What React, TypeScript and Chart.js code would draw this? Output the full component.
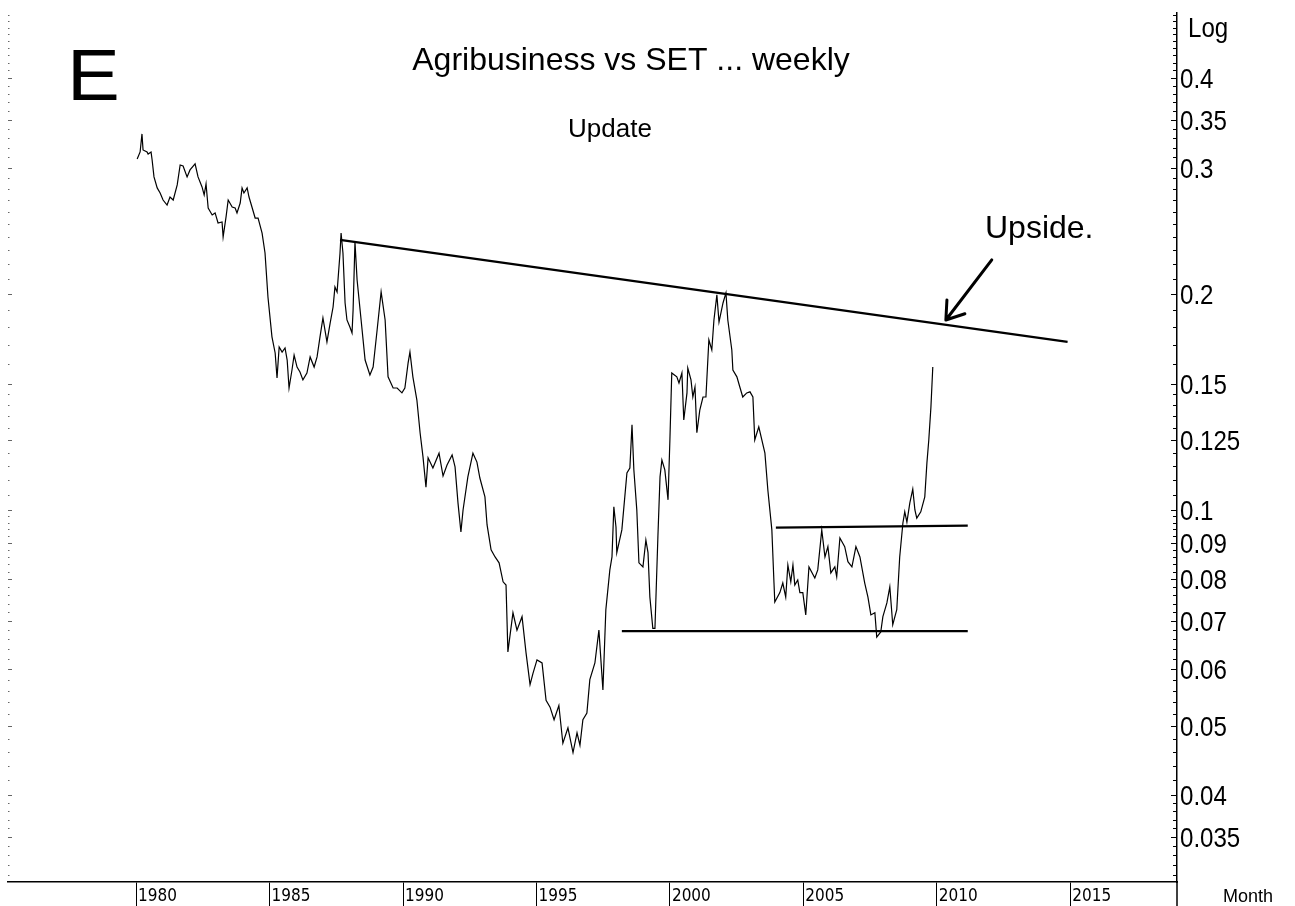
import React, { useEffect, useRef } from "react";
import { Chart, registerables } from "chart.js";

Chart.register(...registerables);

const PANEL_LETTER = "E";
const TITLE = "Agribusiness vs SET ... weekly";
const SUBTITLE = "Update";
const UPSIDE_LABEL = "Upside.";
const SCALE_LABEL = "Log";
const X_UNIT_LABEL = "Month";

const weekYears = [
  1980.04, 1980.15, 1980.22, 1980.26, 1980.41, 1980.45, 1980.56, 1980.6, 1980.67, 1980.79,
  1980.9, 1981.01, 1981.16, 1981.27, 1981.39, 1981.54, 1981.65, 1981.76, 1981.91, 1982.02,
  1982.21, 1982.32, 1982.47, 1982.55, 1982.62, 1982.7, 1982.85, 1982.96, 1983.07, 1983.22,
  1983.26, 1983.37, 1983.45, 1983.6, 1983.71, 1983.78, 1983.9, 1983.97, 1984.04, 1984.16,
  1984.23, 1984.34, 1984.46, 1984.57, 1984.72, 1984.83, 1984.94, 1985.09, 1985.21, 1985.28,
  1985.36, 1985.47, 1985.58, 1985.66, 1985.73, 1985.84, 1985.92, 1986.03, 1986.14, 1986.25,
  1986.4, 1986.52, 1986.67, 1986.78, 1986.89, 1987.0, 1987.15, 1987.27, 1987.38, 1987.45,
  1987.53, 1987.64, 1987.68, 1987.75, 1987.83, 1987.9, 1988.01, 1988.09, 1988.13, 1988.2,
  1988.28, 1988.43, 1988.58, 1988.76, 1988.88, 1989.03, 1989.18, 1989.33, 1989.44, 1989.63,
  1989.78, 1989.96, 1990.07, 1990.19, 1990.26, 1990.37, 1990.52, 1990.64, 1990.75, 1990.86,
  1990.94, 1991.12, 1991.35, 1991.5, 1991.65, 1991.84, 1991.95, 1992.06, 1992.17, 1992.25,
  1992.43, 1992.62, 1992.77, 1992.88, 1993.07, 1993.15, 1993.3, 1993.45, 1993.6, 1993.75,
  1993.86, 1993.93, 1994.12, 1994.27, 1994.46, 1994.61, 1994.76, 1994.87, 1995.02, 1995.21,
  1995.36, 1995.51, 1995.66, 1995.84, 1995.99, 1996.18, 1996.37, 1996.52, 1996.63, 1996.74,
  1996.89, 1997.0, 1997.19, 1997.34, 1997.49, 1997.6, 1997.75, 1997.83, 1997.9, 1997.98,
  1998.01, 1998.2, 1998.39, 1998.5, 1998.58, 1998.65, 1998.76, 1998.84, 1998.99, 1999.1,
  1999.18, 1999.25, 1999.36, 1999.44, 1999.55, 1999.63, 1999.7, 1999.81, 1999.93, 2000.0,
  2000.07, 2000.26, 2000.34, 2000.45, 2000.52, 2000.64, 2000.67, 2000.79, 2000.86, 2000.94,
  2001.01, 2001.12, 2001.24, 2001.35, 2001.46, 2001.57, 2001.65, 2001.76, 2001.84, 2001.99,
  2002.1, 2002.17, 2002.32, 2002.36, 2002.51, 2002.62, 2002.73, 2002.88, 2003.0, 2003.11,
  2003.18, 2003.33, 2003.56, 2003.67, 2003.82, 2003.9, 2003.93, 2004.12, 2004.23, 2004.34,
  2004.42, 2004.53, 2004.61, 2004.68, 2004.79, 2004.87, 2004.98, 2005.09, 2005.21, 2005.43,
  2005.54, 2005.69, 2005.81, 2005.92, 2006.03, 2006.18, 2006.25, 2006.37, 2006.55, 2006.67,
  2006.82, 2006.97, 2007.12, 2007.3, 2007.42, 2007.53, 2007.68, 2007.75, 2007.9, 2007.98,
  2008.13, 2008.24, 2008.35, 2008.5, 2008.61, 2008.73, 2008.8, 2008.88, 2008.99, 2009.1,
  2009.18, 2009.25, 2009.4, 2009.55, 2009.63, 2009.7, 2009.78, 2009.85,
];

const ratioValues = [
  0.3085, 0.3155, 0.3343, 0.3175, 0.3155, 0.3134, 0.3155, 0.3075, 0.2912, 0.2811,
  0.2766, 0.2704, 0.2661, 0.273, 0.2704, 0.2838, 0.3026, 0.3016, 0.2912, 0.2978,
  0.3036, 0.2912, 0.282, 0.2748, 0.2847, 0.2636, 0.2577, 0.2594, 0.2512, 0.252,
  0.2402, 0.2561, 0.2704, 0.2644, 0.2636, 0.2594, 0.2678, 0.2811, 0.2766, 0.2811,
  0.273, 0.2644, 0.2552, 0.2552, 0.2432, 0.2281, 0.1981, 0.1743, 0.1655, 0.1528,
  0.1687, 0.166, 0.1682, 0.1618, 0.1479, 0.1567, 0.1644, 0.1582, 0.1557, 0.1518,
  0.1552, 0.1634, 0.1582, 0.1634, 0.1743, 0.1852, 0.1715, 0.1822, 0.1918, 0.2046,
  0.2013, 0.2281, 0.2432, 0.2281, 0.1943, 0.184, 0.1799, 0.1765, 0.19, 0.2364,
  0.2092, 0.184, 0.1618, 0.1542, 0.1582, 0.1782, 0.2013, 0.184, 0.1533, 0.1479,
  0.1479, 0.1456, 0.1479, 0.1602, 0.166, 0.1533, 0.1423, 0.1281, 0.1185, 0.1076,
  0.1182, 0.1144, 0.12, 0.1115, 0.1155, 0.1193, 0.1148, 0.1023, 0.0932, 0.1,
  0.1112, 0.12, 0.1166, 0.1108, 0.1043, 0.0953, 0.088, 0.086, 0.0844, 0.0794,
  0.0786, 0.0634, 0.0719, 0.068, 0.071, 0.0632, 0.0571, 0.0592, 0.0618, 0.0612,
  0.0543, 0.0531, 0.051, 0.0534, 0.0473, 0.0497, 0.0459, 0.0489, 0.047, 0.051,
  0.0521, 0.058, 0.0612, 0.068, 0.0561, 0.0726, 0.0825, 0.086, 0.101, 0.0947,
  0.0872, 0.0938, 0.1126, 0.1144, 0.1314, 0.1137, 0.1, 0.0844, 0.0833, 0.0908,
  0.0872, 0.0756, 0.0684, 0.0684, 0.0917, 0.1112, 0.1174, 0.1137, 0.1033, 0.1252,
  0.1552, 0.1533, 0.1503, 0.1552, 0.1335, 0.1456, 0.1577, 0.1518, 0.1437, 0.1484,
  0.1281, 0.1378, 0.1437, 0.1437, 0.1726, 0.1671, 0.184, 0.1994, 0.1828, 0.1943,
  0.2007, 0.184, 0.1671, 0.1567, 0.1533, 0.1484, 0.1437, 0.1456, 0.1461, 0.1437,
  0.1252, 0.1306, 0.12, 0.1066, 0.0938, 0.0791, 0.0744, 0.0767, 0.0791, 0.0756,
  0.0838, 0.0794, 0.0838, 0.0786, 0.0799, 0.0767, 0.0767, 0.0714, 0.0833, 0.0804,
  0.0825, 0.0938, 0.086, 0.0889, 0.0817, 0.0833, 0.0807, 0.0914, 0.0889, 0.0847,
  0.0833, 0.0889, 0.086, 0.0791, 0.0756, 0.0714, 0.0719, 0.0665, 0.0676, 0.071,
  0.0742, 0.0781, 0.0692, 0.0726, 0.086, 0.0959, 0.0994, 0.0962, 0.1023, 0.1069,
  0.1, 0.0974, 0.0994, 0.1043, 0.1163, 0.1252, 0.1391, 0.1582,
];

const topTrendYears = [1987.64, 2014.9];
const topTrendValues = [0.2379, 0.1715];
const rangeTopYears = [2003.97, 2011.16];
const rangeTopValues = [0.0945, 0.0951];
const rangeBottomYears = [1998.2, 2011.16];
const rangeBottomValues = [0.0678, 0.0678];

const arrowTail = [2012.06, 0.2231];
const arrowTip = [2010.34, 0.184];

const xTickYears = [1980, 1985, 1990, 1995, 2000, 2005, 2010, 2015];
const X_MIN = 1975.2;
const X_MAX = 2019.0;
const Y_MIN = 0.0303;
const Y_MAX = 0.4928;

const yLabelledTicks = [0.4, 0.35, 0.3, 0.2, 0.15, 0.125, 0.1, 0.09, 0.08, 0.07, 0.06, 0.05, 0.04, 0.035];
const yMinorTicks = [
  0.49, 0.48, 0.47, 0.46, 0.45, 0.44, 0.43, 0.42, 0.41,
  0.39, 0.38, 0.37, 0.36, 0.34, 0.33, 0.32, 0.31,
  0.29, 0.28, 0.27, 0.26, 0.25, 0.24, 0.23, 0.22, 0.21,
  0.19, 0.18, 0.17, 0.16,
  0.145, 0.14, 0.135, 0.13, 0.12, 0.115, 0.11, 0.105,
  0.098, 0.096, 0.094, 0.092, 0.088, 0.086, 0.084, 0.082,
  0.078, 0.076, 0.074, 0.072, 0.068, 0.066, 0.064, 0.062,
  0.058, 0.056, 0.054, 0.052, 0.048, 0.046, 0.044, 0.042,
  0.039, 0.038, 0.037, 0.036, 0.034, 0.033, 0.032, 0.031,
];

const SANS = '"Liberation Sans", Arial, sans-serif';
const NARROW_SCALE = 0.86;

const overlayPlugin = {
  id: "overlay",
  afterDraw(chart: any) {
    const { ctx, chartArea, scales } = chart;
    const x = scales.x;
    const y = scales.y;
    ctx.save();

    // right axis inner tick marks + left dotted marks
    ctx.strokeStyle = "#000";
    ctx.lineWidth = 1;
    const allTicks = [...yLabelledTicks.map((v) => [v, 1]), ...yMinorTicks.map((v) => [v, 0])];
    for (const [v, major] of allTicks) {
      const py = Math.round(y.getPixelForValue(v)) + 0.5;
      ctx.beginPath();
      ctx.moveTo(chartArea.right, py);
      ctx.lineTo(chartArea.right - (major ? 6 : 4), py);
      ctx.stroke();
    }
    ctx.strokeStyle = "#666";
    for (const [v, major] of allTicks) {
      const py = Math.round(y.getPixelForValue(v)) + 0.5;
      ctx.beginPath();
      ctx.moveTo(8, py);
      ctx.lineTo(major ? 12 : 9.5, py);
      ctx.stroke();
    }

    // extend right axis line to bottom
    ctx.strokeStyle = "#000";
    ctx.lineWidth = 1.5;
    ctx.beginPath();
    ctx.moveTo(chartArea.right, chartArea.bottom);
    ctx.lineTo(chartArea.right, chart.height);
    ctx.stroke();

    ctx.fillStyle = "#000";
    ctx.textBaseline = "alphabetic";
    ctx.textAlign = "left";

    // right axis labels (narrow face)
    ctx.font = `28px ${SANS}`;
    for (const v of yLabelledTicks) {
      const py = y.getPixelForValue(v);
      ctx.save();
      ctx.translate(chartArea.right + 3, py + 10);
      ctx.scale(NARROW_SCALE, 1);
      ctx.fillText(String(v), 0, 0);
      ctx.restore();
    }
    ctx.save();
    ctx.translate(1188, 37);
    ctx.scale(NARROW_SCALE, 1);
    ctx.fillText(SCALE_LABEL, 0, 0);
    ctx.restore();

    // panel letter
    ctx.save();
    ctx.font = `72px ${SANS}`;
    ctx.translate(67, 100);
    ctx.scale(1.1, 1);
    ctx.fillText(PANEL_LETTER, 0, 0);
    ctx.restore();

    ctx.textAlign = "center";
    ctx.font = `32px ${SANS}`;
    ctx.fillText(TITLE, 631, 70);
    ctx.font = `26px ${SANS}`;
    ctx.fillText(SUBTITLE, 610, 137);

    ctx.textAlign = "left";
    ctx.font = `32px ${SANS}`;
    ctx.fillText(UPSIDE_LABEL, 985, 238);

    ctx.font = `18px ${SANS}`;
    ctx.fillText(X_UNIT_LABEL, 1223, 902);

    // arrow
    const tx = x.getPixelForValue(arrowTail[0]);
    const ty = y.getPixelForValue(arrowTail[1]);
    const hx = x.getPixelForValue(arrowTip[0]);
    const hy = y.getPixelForValue(arrowTip[1]);
    ctx.lineWidth = 3;
    ctx.lineCap = "round";
    ctx.beginPath();
    ctx.moveTo(tx, ty);
    ctx.lineTo(hx, hy);
    const ang = Math.atan2(ty - hy, tx - hx);
    const len = 20;
    for (const d of [0.6, -0.6]) {
      ctx.moveTo(hx, hy);
      ctx.lineTo(hx + len * Math.cos(ang + d), hy + len * Math.sin(ang + d));
    }
    ctx.stroke();
    ctx.restore();
  },
};

export default function App() {
  const ref = useRef<HTMLCanvasElement>(null);
  useEffect(() => {
    if (!ref.current) return;
    const mk = (xs: number[], ys: number[]) => xs.map((v, i) => ({ x: v, y: ys[i] }));
    const chart = new Chart(ref.current, {
      type: "line",
      data: {
        datasets: [
          { data: mk(weekYears, ratioValues), borderColor: "#000", borderWidth: 1.2, pointRadius: 0, tension: 0 },
          { data: mk(topTrendYears, topTrendValues), borderColor: "#000", borderWidth: 2.2, pointRadius: 0 },
          { data: mk(rangeTopYears, rangeTopValues), borderColor: "#000", borderWidth: 2.2, pointRadius: 0 },
          { data: mk(rangeBottomYears, rangeBottomValues), borderColor: "#000", borderWidth: 2.2, pointRadius: 0 },
        ],
      },
      options: {
        animation: false,
        responsive: true,
        maintainAspectRatio: false,
        devicePixelRatio: 1,
        layout: { padding: { left: 8, top: 13, right: 0, bottom: 0 } },
        plugins: { legend: { display: false }, tooltip: { enabled: false } },
        scales: {
          x: {
            type: "linear",
            position: "bottom",
            min: X_MIN,
            max: X_MAX,
            afterBuildTicks: (s: any) => {
              s.ticks = xTickYears.map((v) => ({ value: v }));
            },
            afterFit: (s: any) => {
              s.height = 24;
            },
            grid: { drawOnChartArea: false, drawTicks: true, tickLength: 24, color: "#000", lineWidth: 1 },
            border: { display: true, color: "#000", width: 1.5 },
            ticks: {
              autoSkip: false,
              maxRotation: 0,
              align: "start",
              labelOffset: 2,
              padding: -20,
              color: "#000",
              font: { family: '"DejaVu Sans Condensed", "DejaVu Sans", sans-serif', size: 17 },
              callback: (v: any) => String(v),
            },
          },
          y: {
            type: "logarithmic",
            position: "right",
            min: Y_MIN,
            max: Y_MAX,
            afterBuildTicks: (s: any) => {
              s.ticks = [...yLabelledTicks, ...yMinorTicks].sort((a, b) => a - b).map((v) => ({ value: v }));
            },
            afterFit: (s: any) => {
              s.width = 118;
            },
            grid: { display: false, drawTicks: false },
            border: { display: true, color: "#000", width: 1.5 },
            ticks: {
              autoSkip: false,
              padding: 3,
              color: "#000",
              callback: () => "",
            },
          },
        },
      },
      plugins: [overlayPlugin],
    });
    return () => chart.destroy();
  }, []);
  return (
    <div style={{ position: "fixed", left: 0, top: 0, width: 1295, height: 906, background: "#fff" }}>
      <canvas ref={ref} />
    </div>
  );
}
